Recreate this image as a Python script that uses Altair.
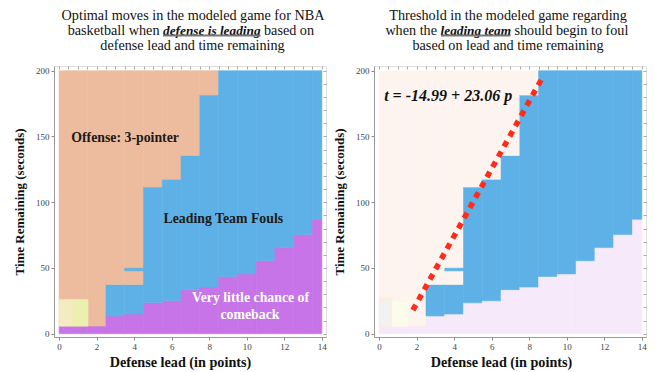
import altair as alt
import pandas as pd

# ---------------- data ----------------
leads = list(range(15))
comeback_top = [5.8, 5.8, 5.8, 13.5, 15, 23.5, 25, 33.5, 35.5, 43.5, 45.5, 55.5, 65.5, 75.5, 87]
foul_top = [None, None, None, 37.5, 37.5, 111.5, 117.5, 135.5, 181.5, 200, 200, 200, 200, 200, 200]
time_max = 200
lead_max = 14
foul_bar = [3.5, 4.5, 47.8, 49.8]          # thin foul strip at lead 4
box_a = [0, 0.74, 5.8, 26]                 # small boxes near lead 0-1.5
box_b = [0.74, 1.54, 5.8, 26]
rbox_a = [0, 0.7, 5.8, 28]
rbox_b = [0, 0.55, 7.5, 24]
rbox_c = [0.7, 1.5, 5.8, 25]

fit_lead = [1.8, 8.75]
fit_time = [18, 196]
fit_label = "t = -14.99 + 23.06 p"

x_ticks = [0, 2, 4, 6, 8, 10, 12, 14]
y_ticks = [0, 50, 100, 150, 200]
x_minor = [i * 0.5 for i in range(29)]
y_minor = list(range(0, 201, 10))

left_labels = ["Offense: 3-pointer", "Leading Team Fouls", "Very little chance of", "comeback"]
left_lab_x = [0.65, 8.75, 10.2, 10.17]
left_lab_y = [148.7, 87.4, 27.1, 14.4]
left_lab_align = ["left", "center", "center", "center"]
left_lab_color = ["#1a1a1a", "#1a1a1a", "#ffffff", "#ffffff"]

SERIF = "Liberation Serif"
TS = 14.2    # title font size
IS = 13.3    # italic title segment size
W, H = 272, 271
xs = alt.Scale(domain=[-0.27, 14.22], nice=False, zero=False)
ys = alt.Scale(domain=[-2.5, 203.6], nice=False, zero=False)


def cells(extra, prefix):
    rows = []
    for p in leads:
        x0 = max(p - 0.5, 0)
        x1 = min(p + 0.5, lead_max)
        rows.append(dict(x0=x0, x1=x1, y0=0, y1=comeback_top[p], cat=prefix + "comeback"))
        lo = comeback_top[p]
        if foul_top[p] is not None:
            rows.append(dict(x0=x0, x1=x1, y0=lo, y1=foul_top[p], cat=prefix + "foul"))
            lo = foul_top[p]
        if lo < time_max:
            rows.append(dict(x0=x0, x1=x1, y0=lo, y1=time_max, cat=prefix + "three"))
    rows.append(dict(x0=foul_bar[0], x1=foul_bar[1], y0=foul_bar[2], y1=foul_bar[3], cat=prefix + "foul"))
    for b, c in extra:
        rows.append(dict(x0=b[0], x1=b[1], y0=b[2], y1=b[3], cat=prefix + c))
    return pd.DataFrame(rows)


def axes_x(title_x):
    return alt.Axis(values=x_ticks, format="d", grid=False, title="Defense lead  (in points)",
                    labelFont=SERIF, labelFontSize=9, labelColor="#444", labelPadding=2,
                    tickColor="#888", tickSize=3, domainColor="#999",
                    titleFont=SERIF, titleFontSize=14.2, titleFontWeight="bold", titleColor="#111",
                    titlePadding=4, titleX=title_x, titleAlign="center")


def axes_y():
    return alt.Axis(values=y_ticks, format="d", grid=False, title="Time Remaining (seconds)",
                    labelFont=SERIF, labelFontSize=9, labelColor="#444", labelPadding=2,
                    tickColor="#888", tickSize=3, domainColor="#999",
                    titleFont=SERIF, titleFontSize=13, titleFontWeight="bold", titleColor="#111",
                    titlePadding=9)


def frame_ticks():
    d = pd.DataFrame({"x": [0], "y": [0]})
    return alt.Chart(d).mark_point(opacity=0).encode(
        x=alt.X("x:Q", scale=xs, axis=alt.Axis(orient="top", values=x_minor, labels=False, title=None,
                                                 domain=False, grid=False, tickColor="#aaa", tickSize=3,
                                                 offset=-3, zindex=1)),
        y=alt.Y("y:Q", scale=ys, axis=alt.Axis(orient="right", values=y_minor, labels=False, title=None,
                                                 domain=False, grid=False, tickColor="#aaa", tickSize=3,
                                                 offset=-3, zindex=1)),
    )


def txt(text, x, y, size=TS, weight="normal", style="normal", align="center", color="#111"):
    return alt.Chart(pd.DataFrame({"t": [text]})).mark_text(
        align=align, baseline="middle", font=SERIF, fontSize=size, fontWeight=weight,
        fontStyle=style, color=color).encode(x=alt.value(x), y=alt.value(y), text="t:N")


def underline(x0, x1, y):
    return alt.Chart(pd.DataFrame({"a": [0]})).mark_rule(color="#777", strokeWidth=2).encode(
        x=alt.value(x0), x2=alt.value(x1), y=alt.value(y))


def region_layer(df, domain, colors, title_x):
    cs = alt.Scale(domain=domain, range=colors)
    return alt.Chart(df).mark_rect(strokeWidth=0.6).encode(
        x=alt.X("x0:Q", scale=xs, axis=axes_x(title_x)), x2="x1:Q",
        y=alt.Y("y0:Q", scale=ys, axis=axes_y()), y2="y1:Q",
        color=alt.Color("cat:N", scale=cs, legend=None),
        stroke=alt.Stroke("cat:N", scale=cs, legend=None),
    )


# ---------------- left panel ----------------
left_df = cells([(box_a, "cream"), (box_b, "lime")], "L_")
left_regions = region_layer(
    left_df,
    ["L_comeback", "L_foul", "L_three", "L_cream", "L_lime"],
    ["#C674E8", "#5DB1E6", "#EDBC9F", "#F5EBC3", "#EBF0AF"],
    126,
)
lab_df = pd.DataFrame({"t": left_labels, "x": left_lab_x, "y": left_lab_y})
left_texts = []
for i in range(len(left_labels)):
    left_texts.append(
        alt.Chart(lab_df.iloc[[i]]).mark_text(
            align=left_lab_align[i], baseline="middle", font=SERIF, fontSize=13.8,
            fontWeight="bold", color=left_lab_color[i]).encode(
            x=alt.X("x:Q", scale=xs, axis=None), y=alt.Y("y:Q", scale=ys, axis=None), text="t:N"))

left_title = [
    txt("Optimal moves in the modeled game for NBA", 139, -50.5),
    txt("basketball when", 105.5, -35.5, align="right"),
    txt("defense is leading", 157.8, -35.5, size=IS, weight="bold", style="italic"),
    underline(109, 206.5, -30.5),
    txt("based on", 210, -35.5, align="left"),
    txt("defense lead and time remaining", 138.5, -20),
]

left = alt.layer(left_regions, frame_ticks(), *left_texts, *left_title).resolve_axis(
    x="independent", y="independent").properties(width=W, height=H)

# ---------------- right panel ----------------
right_df = cells([(rbox_a, "beige"), (rbox_b, "grey"), (rbox_c, "pale")], "R_")
right_regions = region_layer(
    right_df,
    ["R_comeback", "R_foul", "R_three", "R_beige", "R_grey", "R_pale"],
    ["#F6E9F9", "#5DB1E6", "#FDF4F0", "#F8F0E4", "#F1F3F2", "#FCFCEB"],
    127,
)
fit_df = pd.DataFrame({"lead": fit_lead, "time": fit_time})
fit_line = alt.Chart(fit_df).mark_line(color="#FF2B1B", strokeWidth=5.5, strokeDash=[6, 5.7],
                                       strokeCap="butt").encode(
    x=alt.X("lead:Q", scale=xs, axis=None), y=alt.Y("time:Q", scale=ys, axis=None))
eq = alt.Chart(pd.DataFrame({"t": [fit_label], "x": [0.27], "y": [180.5]})).mark_text(
    align="left", baseline="middle", font=SERIF, fontSize=16, fontWeight="bold",
    fontStyle="italic", color="#111").encode(
    x=alt.X("x:Q", scale=xs, axis=None), y=alt.Y("y:Q", scale=ys, axis=None), text="t:N")

right_title = [
    txt("Threshold in the modeled game regarding", 134, -50),
    txt("when the", 63, -35.5, align="right"),
    txt("leading team", 101.8, -35.5, size=IS, weight="bold", style="italic"),
    underline(67, 136.5, -30.5),
    txt("should begin to foul", 140.5, -35.5, align="left"),
    txt("based on lead and time remaining", 134, -20),
]

right = alt.layer(right_regions, frame_ticks(), fit_line, eq, *right_title).resolve_axis(
    x="independent", y="independent").properties(width=W, height=H)

chart = alt.hconcat(left, right, spacing=6).resolve_scale(
    color="independent", stroke="independent"
).properties(
    padding={"left": 5, "top": 0, "right": 0, "bottom": 0}
).configure_view(stroke="#b0b0b0", strokeWidth=1).configure(background="white")

chart.save("out.html", embed_options={"renderer": "svg", "actions": False})
